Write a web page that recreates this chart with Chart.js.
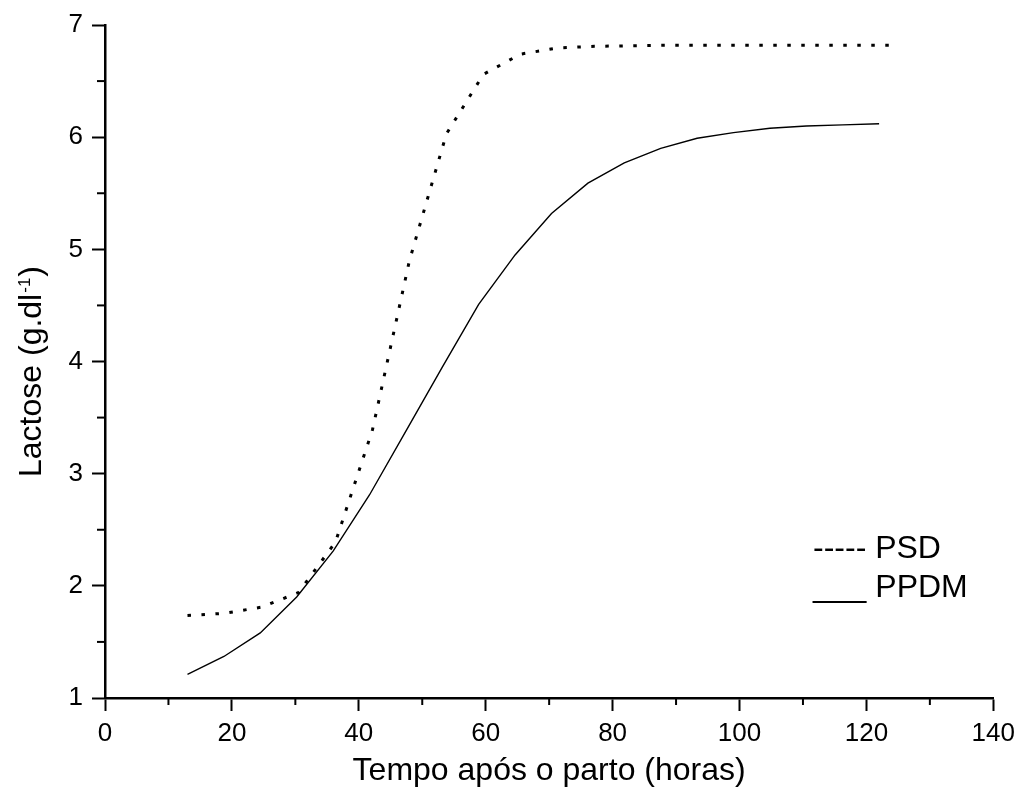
<!DOCTYPE html>
<html>
<head>
<meta charset="utf-8">
<script src="https://cdn.jsdelivr.net/npm/chart.js@4/dist/chart.umd.min.js"></script>
<style>
  html, body { margin: 0; padding: 0; background: #fff; }
</style>
</head>
<body>
<canvas id="chart" width="1022" height="797"></canvas>
<script>
// lactose curves (hours after calving vs g/dl)
const hoursPSD = [13, 18.83, 24.66, 30.49, 36.32, 42.15, 47.98, 53.81, 59.64, 65.47, 71.30, 77.13, 82.96, 88.79, 94.62, 100.45, 106.28, 112.11, 117.94, 123.77];
const lactosePSD = [1.735, 1.755, 1.81, 1.94, 2.39, 3.39, 4.90, 6.03, 6.56, 6.74, 6.795, 6.81, 6.815, 6.82, 6.82, 6.82, 6.82, 6.82, 6.82, 6.82];

const hoursPPDM = [13, 18.74, 24.47, 30.21, 35.95, 41.68, 47.42, 53.16, 58.89, 64.63, 70.37, 76.11, 81.84, 87.58, 93.32, 99.05, 104.79, 110.53, 116.26, 122];
const lactosePPDM = [1.21, 1.37, 1.58, 1.90, 2.31, 2.81, 3.38, 3.95, 4.51, 4.95, 5.32, 5.59, 5.77, 5.90, 5.99, 6.04, 6.08, 6.10, 6.11, 6.12];

const xMajorTicks = [0, 20, 40, 60, 80, 100, 120, 140];
const xMinorTicks = [10, 30, 50, 70, 90, 110, 130];
const yMajorTicks = [1, 2, 3, 4, 5, 6, 7];
const yMinorTicks = [1.5, 2.5, 3.5, 4.5, 5.5, 6.5];

const xTitle = 'Tempo após o parto (horas)';
const yTitle = ['Lactose (g.dl', '-1', ')'];
const legendRows = ['----- PSD', '___ PPDM'];

const FONT = '"Liberation Sans", Arial, sans-serif';
const pts = (xs, ys) => xs.map((x, i) => ({ x, y: ys[i] }));

// minor ticks, y title with superscript, text legend
const extras = {
  id: 'extras',
  afterDraw(chart) {
    const { ctx, chartArea: a, scales: { x, y } } = chart;
    ctx.save();
    ctx.strokeStyle = '#000';
    ctx.lineWidth = 2;
    xMinorTicks.forEach(v => {
      const px = x.getPixelForValue(v);
      ctx.beginPath(); ctx.moveTo(px, a.bottom); ctx.lineTo(px, a.bottom + 7); ctx.stroke();
    });
    yMinorTicks.forEach(v => {
      const py = y.getPixelForValue(v);
      ctx.beginPath(); ctx.moveTo(a.left, py); ctx.lineTo(a.left - 8, py); ctx.stroke();
    });

    // y axis title
    ctx.fillStyle = '#000';
    ctx.textAlign = 'left';
    ctx.textBaseline = 'alphabetic';
    ctx.font = '32px ' + FONT;
    const w1 = ctx.measureText(yTitle[0]).width;
    const w3 = ctx.measureText(yTitle[2]).width;
    ctx.font = '17px ' + FONT;
    const w2 = ctx.measureText(yTitle[1]).width;
    ctx.save();
    ctx.translate(41, (a.top + a.bottom) / 2 + 11);
    ctx.rotate(-Math.PI / 2);
    const sx = -(w1 + w2 + w3) / 2;
    ctx.font = '32px ' + FONT;
    ctx.fillText(yTitle[0], sx, 0);
    ctx.font = '17px ' + FONT;
    ctx.fillText(yTitle[1], sx + w1 + 1, -11);
    ctx.font = '32px ' + FONT;
    ctx.fillText(yTitle[2], sx + w1 + w2 + 2, 0);
    ctx.restore();

    // legend drawn as plain text like the original
    ctx.font = '32px ' + FONT;
    ctx.fillText(legendRows[0], a.left + 708, a.top + 533);
    ctx.fillText(legendRows[1], a.left + 708, a.top + 572);
    ctx.restore();
  }
};

new Chart(document.getElementById('chart'), {
  type: 'line',
  data: {
    datasets: [
      {
        label: 'PSD',
        data: pts(hoursPSD, lactosePSD),
        borderColor: '#000',
        borderWidth: 3,
        borderDash: [3.5, 10.5],
        borderCapStyle: 'butt',
        pointRadius: 0,
        tension: 0,
        fill: false
      },
      {
        label: 'PPDM',
        data: pts(hoursPPDM, lactosePPDM),
        borderColor: '#000',
        borderWidth: 1.4,
        pointRadius: 0,
        tension: 0,
        fill: false
      }
    ]
  },
  options: {
    responsive: false,
    devicePixelRatio: 1,
    animation: false,
    layout: { padding: { left: 0, right: 25, top: 25, bottom: 0 } },
    plugins: { legend: { display: false }, tooltip: { enabled: false } },
    scales: {
      x: {
        type: 'linear',
        min: 0, max: 140,
        afterBuildTicks: s => { s.ticks = xMajorTicks.map(v => ({ value: v })); },
        afterFit: s => { s.height = 99; },
        border: { display: true, color: '#000', width: 2.5 },
        grid: { drawOnChartArea: false, drawTicks: true, tickLength: 13, tickWidth: 2, color: '#000' },
        ticks: { color: '#000', padding: 7, maxRotation: 0, font: { family: FONT, size: 26 } },
        title: { display: true, text: xTitle, color: '#000', padding: { top: 0, bottom: 7 }, font: { family: FONT, size: 32 } }
      },
      y: {
        type: 'linear',
        min: 1, max: 7,
        afterBuildTicks: s => { s.ticks = yMajorTicks.map(v => ({ value: v })); },
        afterFit: s => { s.width = 105; },
        border: { display: true, color: '#000', width: 2.5 },
        grid: { drawOnChartArea: false, drawTicks: true, tickLength: 13, tickWidth: 2, color: '#000' },
        ticks: { color: '#000', padding: 9, font: { family: FONT, size: 26 } }
      }
    }
  },
  plugins: [extras]
});
</script>
</body>
</html>
